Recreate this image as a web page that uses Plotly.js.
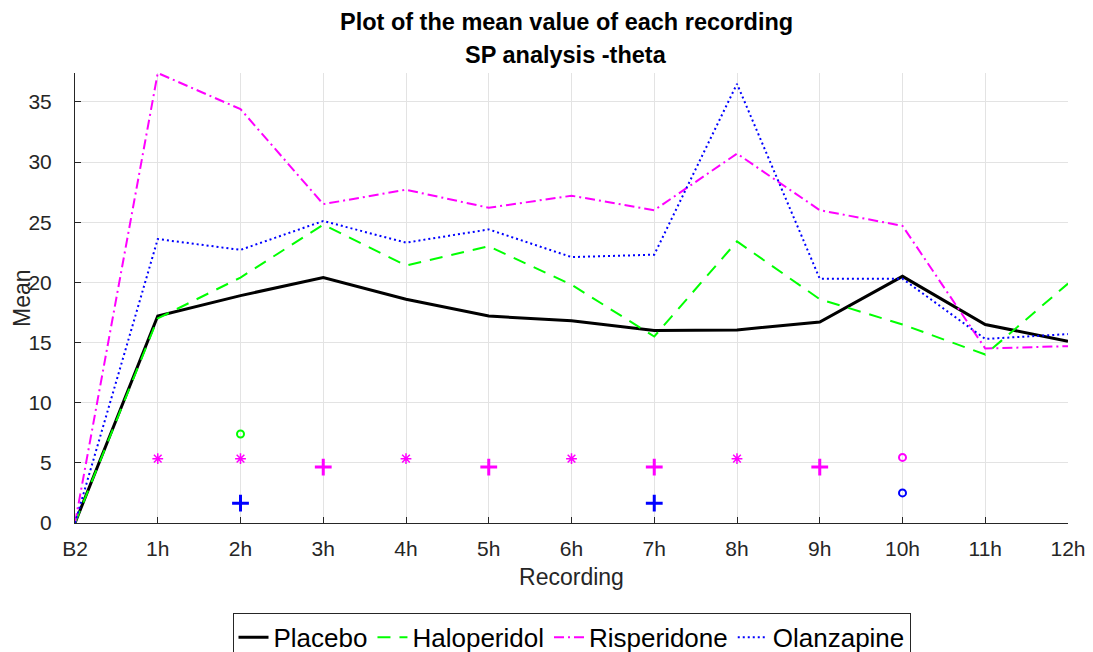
<!DOCTYPE html>
<html>
<head>
<meta charset="utf-8">
<script src="https://cdn.plot.ly/plotly-3.0.1.min.js"></script>
<style>html,body{margin:0;padding:0;background:#fff}#chart{width:1093px;height:652px}</style>
</head>
<body>
<div id="chart"></div>
<script>
const recordings = ["B2","1h","2h","3h","4h","5h","6h","7h","8h","9h","10h","11h","12h"];
const placebo     = [0, 17.2, 18.9, 20.4, 18.6, 17.2, 16.8, 16.0, 16.05, 16.7, 20.5, 16.5, 15.1];
const haloperidol = [0, 17.0, 20.4, 24.8, 21.4, 23.0, 19.8, 15.5, 23.4, 18.6, 16.5, 14.0, 19.9];
const risperidone = [0, 37.4, 34.4, 26.5, 27.7, 26.2, 27.2, 26.0, 30.7, 26.0, 24.7, 14.5, 14.7];
const olanzapine  = [0, 23.6, 22.7, 25.1, 23.3, 24.4, 22.1, 22.3, 36.5, 20.3, 20.3, 15.3, 15.7];

const titleLines = ["Plot of the mean value of each recording", "SP analysis -theta"];
const yTitle = "Mean";

// significance markers
const haloCircleX = ["2h"];           const haloCircleY = [7.4];
const rispStarX = ["1h","2h","4h","6h","8h"]; const rispStarY = [5.35,5.35,5.35,5.35,5.35];
const rispPlusX = ["3h","5h","7h","9h"];      const rispPlusY = [4.65,4.65,4.65,4.65];
const rispCircleX = ["10h"];          const rispCircleY = [5.45];
const olanPlusX = ["2h","7h"];        const olanPlusY = [1.65,1.65];
const olanCircleX = ["10h"];          const olanCircleY = [2.5];

const GREEN = "#00ff00", MAG = "#ff00ff", BLUE = "#0000ff";

function line(name, y, color, width, dash) {
  return {x: recordings, y: y, name: name, type: "scatter", mode: "lines",
          line: {color: color, width: width, dash: dash}};
}
function marks(x, y, color, symbol, size, lw) {
  return {x: x, y: y, type: "scatter", mode: "markers", showlegend: false, hoverinfo: "skip",
          marker: {symbol: symbol, size: size, color: color, line: {color: color, width: lw}}};
}

const data = [
  line("Placebo", placebo, "#000000", 3, "solid"),
  line("Haloperidol", haloperidol, GREEN, 2, "13px,9px"),
  line("Risperidone", risperidone, MAG, 2, "10px,4px,2px,4px"),
  line("Olanzapine", olanzapine, BLUE, 2, "2px,3px"),
  marks(haloCircleX, haloCircleY, GREEN, "circle-open", 7, 2),
  marks(rispStarX, rispStarY, MAG, "asterisk-open", 9, 1.5),
  marks(rispPlusX, rispPlusY, MAG, "cross-thin-open", 12, 3),
  marks(rispCircleX, rispCircleY, MAG, "circle-open", 7, 2),
  marks(olanPlusX, olanPlusY, BLUE, "cross-thin-open", 12, 3),
  marks(olanCircleX, olanCircleY, BLUE, "circle-open", 7, 2)
];

const FONT = "Liberation Sans, Arial, Helvetica, sans-serif";
const PLOT_LEFT = 75, PLOT_W = 993, PLOT_TOP = 73, PLOT_H = 450;
function titleAnn(text, pixelY) {
  return {text: "<b>" + text + "</b>", xref: "paper", yref: "paper", x: 0.4945, xanchor: "center",
          y: 1 + (PLOT_TOP - pixelY) / PLOT_H, yanchor: "middle", showarrow: false,
          font: {family: FONT, size: 23.5, color: "#000000"}};
}
const yTitleAnn = {text: yTitle, xref: "paper", yref: "paper", x: (22 - PLOT_LEFT) / PLOT_W, xanchor: "center",
                   y: 0.5, yanchor: "middle", textangle: -90, showarrow: false,
                   font: {family: FONT, size: 23, color: "#262626"}};

const layout = {
  width: 1093, height: 652,
  margin: {l: 75, r: 25, t: 73, b: 129},
  paper_bgcolor: "#ffffff", plot_bgcolor: "#ffffff",
  font: {family: FONT, color: "#262626"},
  annotations: [titleAnn(titleLines[0], 22), titleAnn(titleLines[1], 55), yTitleAnn],
  xaxis: {type: "category", categoryorder: "array", categoryarray: recordings,
          range: [0, 12], showgrid: true, gridcolor: "#e3e3e3", gridwidth: 1,
          showline: true, linecolor: "#262626", linewidth: 1, zeroline: false,
          ticks: "inside", ticklen: 6, tickcolor: "#262626", ticklabelstandoff: 7,
          tickfont: {size: 21, color: "#262626"},
          title: {text: "Recording", font: {size: 23, color: "#262626"}, standoff: 9}},
  yaxis: {range: [0, 37.4], dtick: 5, tick0: 0, showgrid: true, gridcolor: "#e3e3e3", gridwidth: 1,
          showline: true, linecolor: "#262626", linewidth: 1, zeroline: false,
          ticks: "inside", ticklen: 6, tickcolor: "#262626", ticklabelstandoff: 18,
          tickfont: {size: 21, color: "#262626"}},
  legend: {orientation: "h", x: 0.5, xanchor: "center", yref: "container", y: 0.06, yanchor: "top",
           bordercolor: "#262626", borderwidth: 1, bgcolor: "#ffffff",
           font: {size: 26, color: "#000000"}, tracegroupgap: 0},
  showlegend: true
};

Plotly.newPlot("chart", data, layout, {staticPlot: true});
</script>
</body>
</html>
